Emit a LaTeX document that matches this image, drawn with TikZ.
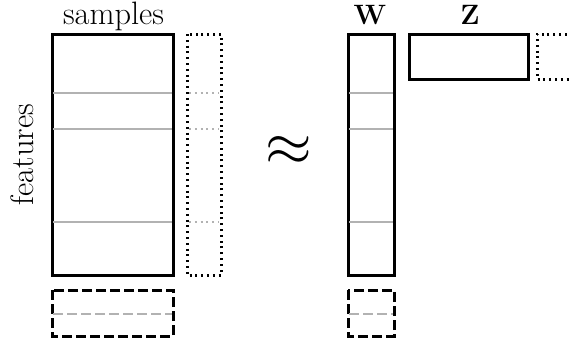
\documentclass[tikz,border=0pt]{standalone}
\usepackage{amsmath}
\usepackage{graphicx}
\begin{document}
\begin{tikzpicture}[x=0.5pt,y=-0.5pt,
  solidbox/.style={line width=1.5pt},
  dottedbox/.style={line width=1.5pt,dash pattern=on 1pt off 1.9pt},
  dashedbox/.style={line width=1.5pt,dash pattern=on 5pt off 2pt},
  grayline/.style={line width=1pt,color=black!30},
  graydot/.style={grayline,dash pattern=on 1pt off 1.9pt},
  graydash/.style={grayline,dash pattern=on 5pt off 2pt},
  lbl/.style={inner sep=0pt,anchor=base,font=\fontsize{16.2}{20}\selectfont},
  blbl/.style={inner sep=0pt,anchor=base,font=\fontsize{14}{16}\selectfont\bfseries}]
\useasboundingbox (0,0) rectangle (569,345);
\clip (0,0) rectangle (569,345);
% X matrix
\draw[solidbox] (52,34) rectangle (173,275);
\foreach \yy in {93,129,222} \draw[grayline] (53,\yy) -- (172,\yy);
% dotted column
\draw[dottedbox] (187,34) rectangle (221,275);
\foreach \yy in {93,129,222} \draw[graydot] (189,\yy) -- (219,\yy);
% dashed row
\draw[dashedbox] (52,290) rectangle (173,336);
\draw[graydash] (53,314) -- (172,314);
% W
\draw[solidbox] (348,34) rectangle (394,275);
\foreach \yy in {93,129,222} \draw[grayline] (349,\yy) -- (393,\yy);
\draw[dashedbox] (348,290) rectangle (394,336);
\draw[graydash] (349,314) -- (393,314);
% Z
\draw[solidbox] (409,34) rectangle (528,79);
\draw[dottedbox] (590,34) -- (537,34) -- (537,79) -- (590,79);
% labels
\node[lbl] (samples) at (113.5,24) {samples};
\node[lbl,rotate=90] (features) at (33,154.5) {features};
\node[inner sep=0pt] (approx) at (288.5,151) {\scalebox{3}{$\approx$}};
\node[blbl] (W) at (370,24) {W};
\node[blbl] (Z) at (470,24) {Z};
\end{tikzpicture}
\end{document}
